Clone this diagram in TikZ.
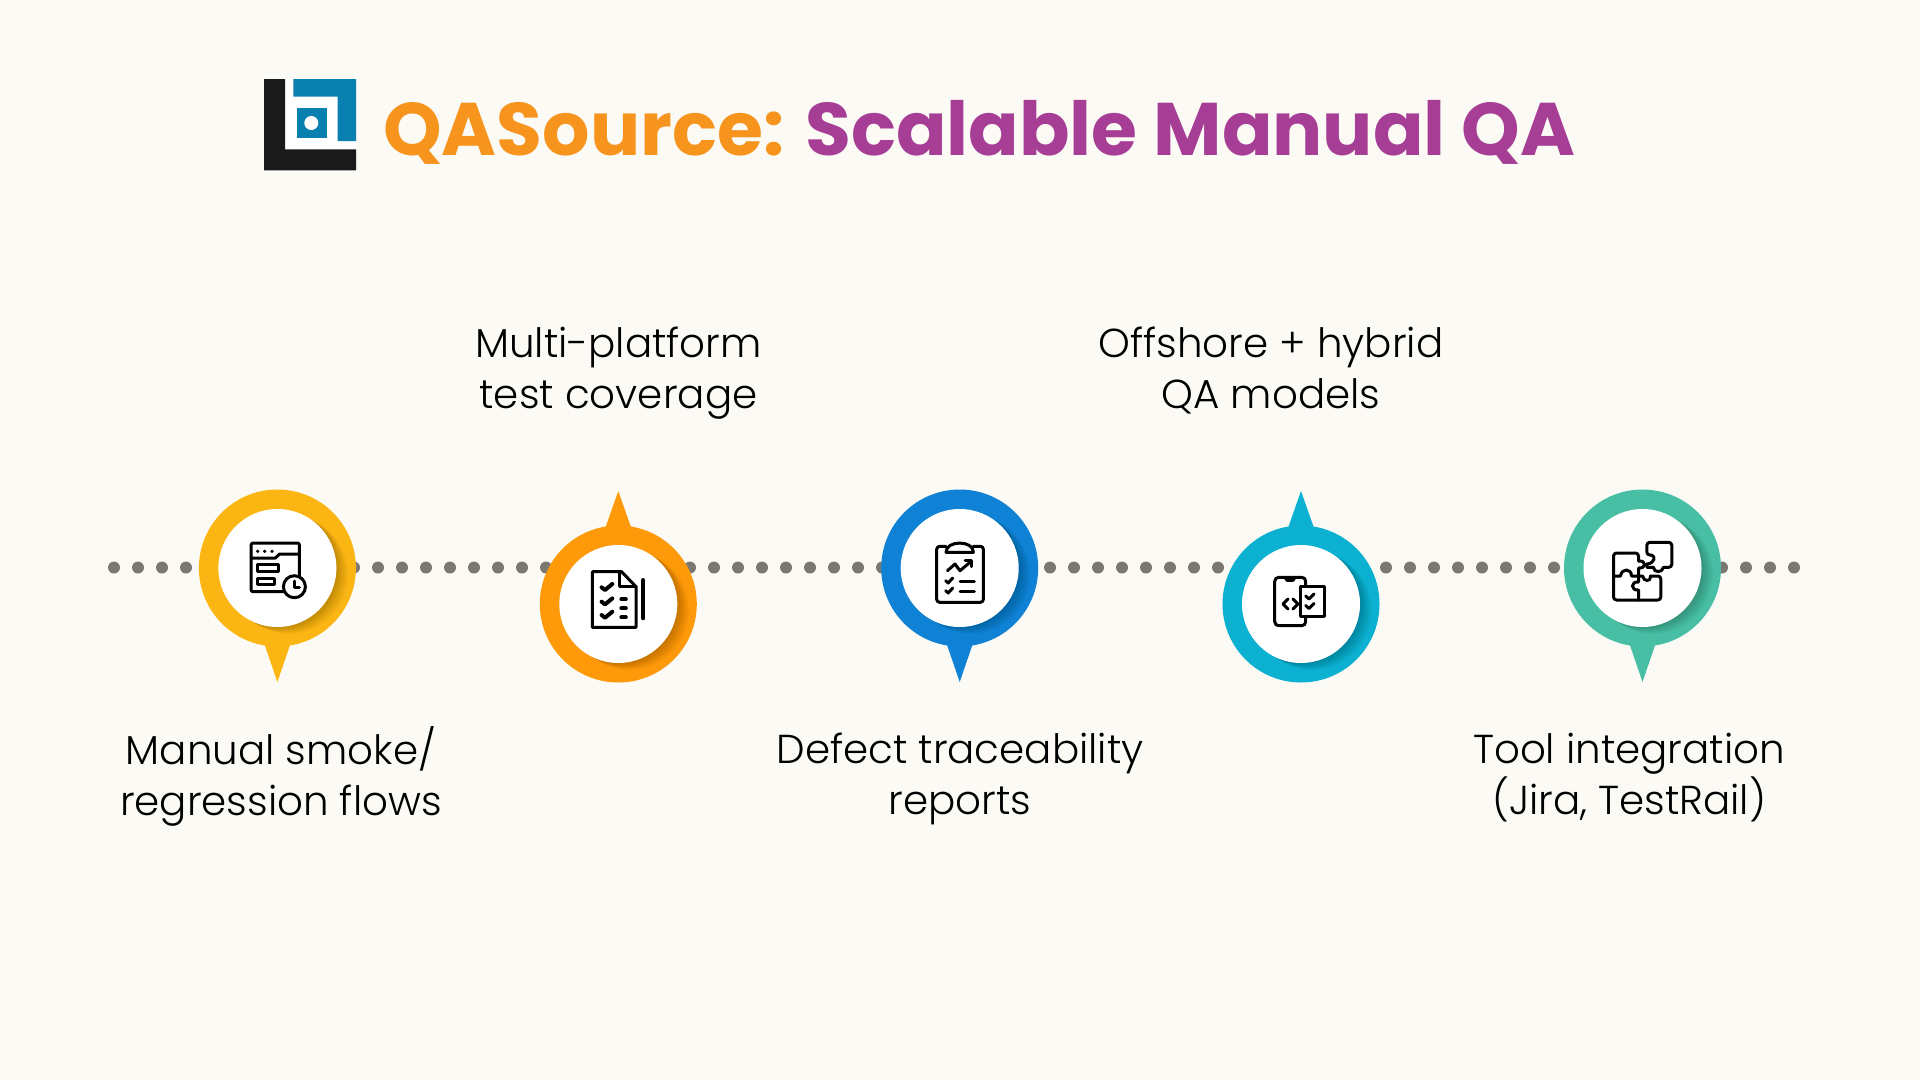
\documentclass[tikz,border=0pt]{standalone}
\usepackage{fontspec}
\usetikzlibrary{calc}
\setmainfont{Poppins}
\newfontfamily\titlefont[UprightFont=* Bold]{Poppins}
\newfontfamily\labelfont[UprightFont=* Light]{Poppins}
\definecolor{pagebg}{HTML}{FBFAF5}
\definecolor{dotgrey}{HTML}{7A7870}
\definecolor{logoblue}{HTML}{0A80B0}
\definecolor{logoblack}{HTML}{1A1A1A}
\definecolor{titleorange}{HTML}{F7941D}
\definecolor{titlepurple}{HTML}{A63E96}
\definecolor{pinyellow}{HTML}{FBB614}
\definecolor{pinorange}{HTML}{FE9A0A}
\definecolor{pinblue}{HTML}{0F82D6}
\definecolor{pincyan}{HTML}{0CB0D0}
\definecolor{pinteal}{HTML}{48BFA5}
\tikzset{
  pinring/.style={circle, inner sep=0pt, minimum size=157pt},
  pinhole/.style={circle, fill=white, inner sep=0pt, minimum size=118pt},
  lineicon/.style={draw=black, line width=3pt, line join=round, line cap=round},
  boldicon/.style={lineicon, line width=4pt},
  steplabel/.style={font=\labelfont\fontsize{40.4}{51.5}\selectfont, align=center, text=black},
}
\begin{document}
\begin{tikzpicture}[x=1pt, y=-1pt]
      \useasboundingbox (0,0) rectangle (1920,1080);
      \fill[pagebg] (0,0) rectangle (1920,1080);

      % logo
      \fill[white] (285,79) rectangle (356,149.3);
      \fill[logoblack] (264,79) -- (285,79) -- (285,149.3) -- (356,149.3) -- (356,170.3) -- (264,170.3) -- cycle;
      \fill[logoblue] (293.3,79) -- (356,79) -- (356,141) -- (337.7,141) -- (337.7,96.7) -- (293.3,96.7) -- cycle;
      \fill[logoblue] (296.7,108.3) rectangle (326.7,138);
      \fill[white] (311.3,123) circle (7);

      % title
      \node[anchor=base west, inner sep=0pt, font=\titlefont\fontsize{74.5}{80}\selectfont] (title) at (383,155)
        {\textcolor{titleorange}{QASource:} \textcolor{titlepurple}{Scalable Manual QA}};

      % dotted line
      \foreach \k in {0,...,70} {
        \node[circle, fill=dotgrey, inner sep=0pt, minimum size=12pt] (dot\k) at (114+24*\k,567.5) {};
      }

      % pins
      \node[pinring, fill=pinyellow] (pin1) at (277.4,568) {};
      \node[pinring, fill=pinorange] (pin2) at (618.3,604) {};
      \node[pinring, fill=pinblue] (pin3) at (959.7,568) {};
      \node[pinring, fill=pincyan] (pin4) at (1301,604) {};
      \node[pinring, fill=pinteal] (pin5) at (1642.5,568) {};

      \fill[pinyellow] (pin1) ++(-13,76) -- ++(13,38) -- ++(13,-38) -- cycle;
      \fill[pinorange] (pin2) ++(-13,-76) -- ++(13,-37) -- ++(13,37) -- cycle;
      \fill[pinblue] (pin3) ++(-13,76) -- ++(13,38) -- ++(13,-38) -- cycle;
      \fill[pincyan] (pin4) ++(-13,-76) -- ++(13,-37) -- ++(13,37) -- cycle;
      \fill[pinteal] (pin5) ++(-13,76) -- ++(13,38) -- ++(13,-38) -- cycle;

      \foreach \p in {1,...,5} {
        \foreach \k in {1,...,14} {
          \fill[black, opacity=0.016] ($(pin\p)+(0.85*\k,0.5*\k)$) circle (59);
        }
        \node[pinhole] (hole\p) at (pin\p) {};
      }

      % icon 1
      \begin{scope}[shift={(pin1)}]
        \draw[lineicon, rounded corners=2pt] (-26.3,-25) rectangle (22,23.7);
        \draw[lineicon] (-26.3,-10) -- (-2,-10) -- (2,-14) -- (22,-14);
        \fill (-19.7,-16.7) circle (1.8) (-12.7,-16.7) circle (1.8) (-5.3,-16.7) circle (1.8);
        \draw[lineicon] (-19.7,-4) rectangle (1.3,3.3);
        \draw[lineicon] (-19.7,10) rectangle (-3,16.7);
        \draw[lineicon, fill=white] (17,18.7) circle (11);
        \draw[lineicon] (17,13) -- (17,19) -- (22,19);
      \end{scope}

      % icon 2
      \begin{scope}[shift={(pin2)}]
        \draw[lineicon] (-26,-32.3) -- (3.3,-32.3) -- (17.7,-17.3) -- (17.7,23.3) -- (-26,23.3) -- cycle;
        \draw[lineicon] (1,-32.3) -- (1,-17.3) -- (17.7,-17.3);
        \draw[boldicon] (25,-24) -- (25,14.3);
        \draw[boldicon] (-16.7,-16.7) -- (-13.3,-14) -- (-6,-20);
        \draw[boldicon] (-16.7,-2.3) -- (-13.3,0.4) -- (-6,-5.6);
        \draw[boldicon] (-16.7,11) -- (-13.3,13.7) -- (-6,7.7);
        \draw[boldicon] (3,-4.7) -- (7.5,-4.7);
        \draw[boldicon] (3,4.3) -- (7.5,4.3);
        \draw[boldicon] (3,13.3) -- (7.5,13.3);
      \end{scope}

      % icon 3
      \begin{scope}[shift={(pin3)}]
        \draw[lineicon, rounded corners=3pt] (-13.7,-21.7) -- (-23,-21.7) -- (-23,34.3) -- (23.7,34.3) -- (23.7,-21.7) -- (13.7,-21.7);
        \draw[lineicon] (-13.7,-15.7) .. controls (-14,-28) and (14,-28) .. (13.7,-15.7) -- cycle;
        \draw[lineicon] (-12.3,2.7) -- (-4.7,-4) -- (0.3,2.7) -- (10.3,-5.7);
        \draw[lineicon] (5.3,-7.3) -- (12,-7.3) -- (12,-1.3);
        \draw[lineicon] (-14,12.7) -- (-11.5,15) -- (-7,10);
        \draw[lineicon] (-14,22.7) -- (-11.5,25) -- (-7,20);
        \draw[lineicon] (0.3,13.3) -- (14.7,13.3);
        \draw[lineicon] (0.3,23.3) -- (14.7,23.3);
      \end{scope}

      % icon 4
      \begin{scope}[shift={(pin4)}]
        \draw[lineicon, rounded corners=4pt] (-26.3,-26.7) rectangle (4.7,21.7);
        \draw[lineicon] (-16,-26.7) -- (-14,-23.7) -- (-8,-23.7) -- (-6,-26.7);
        \draw[lineicon, fill=white] (-0.7,-17.3) rectangle (23,12.7);
        \draw[lineicon] (-13,-5) -- (-18,0) -- (-13,5);
        \draw[lineicon] (-8,-5) -- (-3,0) -- (-8,5);
        \draw[lineicon] (4.7,-8) -- (8,-5) -- (13,-10);
        \draw[lineicon] (4.7,1.5) -- (8,4.5) -- (13,-0.5);
      \end{scope}

      % icon 5
      \begin{scope}[shift={(pin5)}]
        \draw[lineicon, rounded corners=3pt] (-29,8) -- (-29,-15) -- (-4,-15) -- (-4,-7);
        \draw[lineicon] (-4,-7) .. controls (4,-8) and (4,1) .. (-4,0) -- (-4,8);
        \draw[lineicon, rounded corners=3pt] (-29,8) -- (-29,32) -- (18.3,32) -- (18.3,8) -- (8,8);
        \draw[lineicon] (-29,8) -- (-22,8) .. controls (-21,0) and (-11,0) .. (-11,8) -- (-4,8);
        \draw[lineicon] (-4,8) -- (-4,14) .. controls (-12,13) and (-12,23) .. (-4,22) -- (-4,32);
        \draw[lineicon] (-4,8) -- (0,8) .. controls (1,14) and (9,14) .. (8,8);
        \draw[lineicon, rounded corners=3pt] (9,-13) -- (4.3,-13) -- (4.3,-25.7) -- (29.3,-25.7) -- (29.3,-0.7) -- (21,-0.7);
        \draw[lineicon] (9,-13) .. controls (13,-12) and (13,-5) .. (4.3,-4) -- (4.3,-0.7) -- (11,-0.7) .. controls (11,5) and (20,5) .. (21,-0.7);
      \end{scope}

      % labels
      \node[steplabel] (text1) at (281,778.5) {\strut Manual smoke/\\\strut regression flows};
      \node[steplabel] (text2) at (618.5,372.5) {\strut Multi-platform\\\strut test coverage};
      \node[steplabel] (text3) at (960,778.5) {\strut Defect traceability\\\strut reports};
      \node[steplabel] (text4) at (1271,372.5) {\strut Offshore + hybrid\\\strut QA models};
      \node[steplabel] (text5) at (1629,778.5) {\strut Tool integration\\\strut\smash{(Jira, TestRail)}};
    \end{tikzpicture}
\end{document}
